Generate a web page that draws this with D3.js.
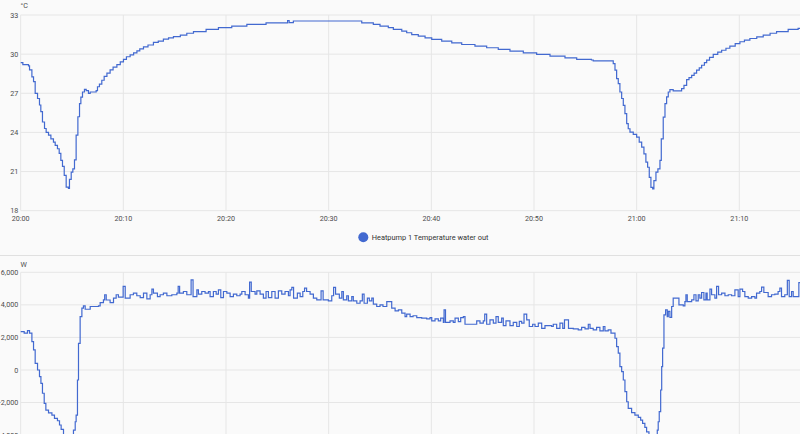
<!DOCTYPE html>
<html><head><meta charset="utf-8">
<script src="https://cdn.jsdelivr.net/npm/d3@7"></script>
<style>
html,body{margin:0;padding:0;background:#fafafa;overflow:hidden;}
svg{display:block;font-family:Roboto,"Noto Sans",sans-serif;}
</style></head>
<body>
<svg id="c" width="800" height="434"></svg>
<script>
// ---- data (minutes after 20:00) ----
const tempMinutes = [0,0.21,0.76,0.86,1.09,1.25,1.41,1.64,1.83,1.96,2.12,2.32,2.48,2.71,2.94,3.19,3.36,3.58,3.75,3.91,4.07,4.24,4.43,4.65,4.75,4.92,5.08,5.24,5.40,5.57,5.73,5.86,6.02,6.21,6.38,6.60,6.77,7.35,7.48,7.67,7.90,8.13,8.4,8.71,9.0,9.37,9.7,10.01,10.3,10.66,11.0,11.32,11.6,11.96,12.4,12.93,13.4,13.90,14.4,14.88,15.55,16.18,16.83,18.06,19.26,20.56,22.03,23.9,26.0,26.15,26.56,33.22,34.35,35.0,35.81,36.3,37.12,37.6,38.09,38.73,39.39,40.04,41.01,41.99,42.96,44.25,45.39,46.52,47.66,48.96,50.26,51.56,53.02,54.16,55.6,55.77,57.72,57.89,58.05,58.21,58.37,58.54,58.70,58.86,59.03,59.18,59.35,59.67,60.0,60.25,60.49,60.71,60.9,61.07,61.23,61.39,61.56,61.68,61.88,62.07,62.27,62.4,62.59,62.76,62.92,63.08,63.24,63.56,64.38,64.61,64.87,65.1,65.36,65.6,65.84,66.1,66.33,66.6,66.82,67.1,67.46,67.9,68.28,68.7,69.08,69.6,70.06,70.5,71.03,71.7,72.33,73.0,73.63,74.76,75.73,76.5];
const tempValues = [29.35,29.2,29.1,28.8,28.25,27.9,27.0,26.6,26.1,25.6,24.8,24.3,24.0,23.8,23.5,23.25,23.0,22.75,22.4,21.85,21.4,20.7,19.8,19.7,20.4,20.95,21.2,21.9,23.8,25.2,26.2,26.7,27.1,27.3,27.2,27.0,27.1,27.2,27.5,27.7,28.0,28.3,28.55,28.8,29.0,29.2,29.4,29.6,29.8,29.95,30.1,30.25,30.4,30.55,30.7,30.9,31.0,31.15,31.25,31.35,31.46,31.6,31.72,31.9,32.03,32.15,32.28,32.4,32.58,32.42,32.54,32.4,32.28,32.15,32.03,31.9,31.77,31.64,31.5,31.38,31.25,31.13,31.0,30.87,30.74,30.62,30.49,30.36,30.23,30.1,29.98,29.85,29.72,29.6,29.55,29.48,29.28,28.77,28.13,27.74,27.1,26.6,26.08,25.44,24.67,24.28,24.03,23.85,23.64,23.25,22.87,22.36,21.72,21.33,20.56,19.79,19.67,20.3,20.95,21.2,21.85,23.5,25.18,26.2,26.72,27.1,27.28,27.18,27.36,27.6,28.05,28.2,28.38,28.55,28.77,28.95,29.15,29.35,29.54,29.75,29.98,30.15,30.3,30.45,30.62,30.8,30.95,31.08,31.2,31.33,31.46,31.6,31.72,31.9,31.97,32.0];

const powerMinutes = [0,0.34,0.66,0.86,1.09,1.25,1.41,1.64,1.83,1.97,2.12,2.29,2.45,2.71,3.04,3.29,3.58,3.78,3.94,4.17,4.43,4.82,5.14,5.31,5.40,5.53,5.63,5.79,5.96,6.11,6.28,6.77,7.58,7.74,8.06,8.18,8.33,8.71,9.04,9.30,9.52,9.98,10.18,10.66,10.98,11.31,11.64,11.96,12.29,12.61,12.78,12.93,13.32,13.58,13.90,14.24,14.72,15.21,15.34,15.48,15.85,16.18,16.60,16.79,17.16,17.31,17.64,17.96,18.29,18.45,18.77,19.04,19.26,19.49,19.75,20.08,20.40,20.72,21.05,21.37,21.54,21.86,22.18,22.30,22.46,22.83,23.00,23.32,23.64,23.90,24.13,24.46,24.78,25.10,25.43,25.75,26.08,26.24,26.41,26.58,26.95,27.22,27.48,27.65,27.85,28.19,28.51,28.84,29.26,29.46,29.97,30.30,30.48,30.67,31.04,31.28,31.43,31.76,31.92,32.25,32.40,32.74,33.06,33.28,33.45,33.77,33.96,34.20,34.35,34.68,35.00,35.29,35.66,36.14,36.47,36.79,37.12,37.44,37.60,37.93,38.22,38.58,39.06,39.55,39.87,40.04,40.36,40.68,40.91,41.17,41.24,41.38,41.82,42.14,42.31,42.63,42.86,43.12,43.28,44.42,44.74,45.06,45.20,45.39,45.71,46.04,46.30,46.52,46.85,47.01,47.27,47.66,47.98,48.32,48.57,48.80,49.03,49.29,49.54,49.87,50.10,50.42,50.75,51.07,51.72,51.88,52.21,52.53,52.80,52.97,53.36,53.83,54.31,54.64,54.97,55.29,55.46,55.77,56.10,56.42,56.75,56.91,57.23,57.50,57.89,58.05,58.21,58.37,58.54,58.70,58.86,59.03,59.18,59.51,59.83,60.16,60.39,60.58,60.80,60.97,61.20,61.49,61.78,62.01,62.10,62.20,62.34,62.44,62.53,62.66,62.82,62.98,63.08,63.24,63.41,63.56,64.12,64.54,64.70,64.80,64.93,65.36,65.58,65.78,66.00,66.16,66.33,66.55,66.75,66.87,67.14,67.30,67.62,67.79,67.98,68.28,68.60,68.92,69.25,69.57,69.89,70.06,70.32,70.54,70.87,71.20,71.52,71.68,72.00,72.17,72.39,72.81,73.14,73.46,73.78,73.95,74.11,74.43,74.68,74.86,75.09,75.25,75.80,76.2];
const powerValues = [2360,2260,2420,2260,1740,1230,410,0,-410,-820,-1430,-2050,-2460,-2630,-2770,-2970,-3120,-3380,-3650,-4300,-4800,-4600,-3690,-3180,-2770,-615,1640,3280,3800,3940,3730,3900,3940,4140,4310,4620,4300,4140,4410,4620,4470,5130,4410,4620,4720,4560,4450,4720,4370,4620,4970,4720,4510,4620,4720,4560,4620,4720,5130,4720,4820,4620,5540,4510,4920,4660,4820,4720,4820,4510,4820,4660,4920,4450,4820,4720,4510,4660,4560,4660,4820,4620,4410,5400,4820,4660,4860,4660,4410,4820,4450,4820,4410,4860,4660,4820,4560,4920,5070,4410,4720,4510,4820,5030,4820,4660,4410,4310,4860,4310,4250,4560,5070,4660,4410,4820,4310,4560,4250,4510,4250,4100,4250,4660,4100,4410,4250,4410,4040,3900,4000,3900,4200,3800,3630,3690,3490,3280,3430,3280,3330,3220,3180,3140,3220,3020,3140,3020,3180,2930,3690,2930,3020,2930,3180,2970,3220,3280,2810,3020,2880,3020,3430,2810,3080,2880,3280,2930,3180,2730,3020,2730,2930,2670,2980,2880,3430,3080,2670,2810,2670,2880,2560,2730,2670,2810,2560,2880,2560,3080,2560,2520,2460,2620,2520,2810,2560,2460,2620,2400,2670,2400,2460,2260,1950,1440,1030,200,-100,-615,-1330,-1950,-2360,-2620,-2770,-2910,-3080,-3280,-3530,-3800,-4300,-4700,-4400,-3690,-3180,-2560,-1230,200,1340,3380,3690,3280,3600,3230,3900,4410,4000,3940,4200,4620,4200,4310,4620,4250,4620,4410,4760,4310,4720,4310,4970,4620,4410,5130,4620,4720,4560,4620,4560,4920,4510,4970,4820,4510,4410,4510,4410,4720,4820,5090,4760,4510,4620,4660,4820,5030,4510,4620,5500,4510,4820,4510,5370,5370];

const tempTicks = [18,21,24,27,30,33];
const powerTicks = [-4000,-2000,0,2000,4000,6000];
const timeTickLabels = ["20:00","20:10","20:20","20:30","20:40","20:50","21:00","21:10"];
const seriesName = "Heatpump 1 Temperature water out";
const tempUnit = "°C", powerUnit = "W";

// ---- drawing ----
const base = new Date(2024,0,1,20,0,0);
const toDate = m => new Date(base.getTime() + m*60000);
const svg = d3.select("#c");
const LINE = "#4269d0", GRID = "#e6e6e6", TXT = "#4d4d4d", FS = "7.2px";

const x = d3.scaleTime().domain([toDate(0), toDate(76)]).range([20.7, 800.9]);
const timeTicks = timeTickLabels.map(s => { const [h,mm] = s.split(":").map(Number); return toDate((h-20)*60+mm); });

function panel(yScale, ticks, fmt, minutes, values, unit, unitY, showXLabels) {
  const g = svg.append("g");
  const [yBot, yTop] = yScale.range();
  const yBottom = Math.min(yBot, 434);
  // horizontal grid
  g.selectAll(".hg").data(ticks).enter().append("line")
    .attr("x1", x.range()[0]).attr("x2", 800)
    .attr("y1", d => yScale(d)).attr("y2", d => yScale(d))
    .attr("stroke", GRID).attr("stroke-width", 1);
  // vertical grid
  g.selectAll(".vg").data(timeTicks).enter().append("line")
    .attr("x1", d => x(d)).attr("x2", d => x(d))
    .attr("y1", yScale(ticks[ticks.length-1])).attr("y2", yBottom)
    .attr("stroke", GRID).attr("stroke-width", 1);
  // y labels
  g.selectAll(".yl").data(ticks).enter().append("text")
    .attr("x", 18.3).attr("y", d => yScale(d)).attr("dy", "0.35em")
    .attr("text-anchor", "end").attr("fill", TXT).style("font-size", FS)
    .text(fmt);
  g.append("text").attr("x", 20.5).attr("y", unitY).attr("fill", TXT)
    .style("font-size", FS).text(unit);
  if (showXLabels) {
    g.selectAll(".xl").data(timeTicks).enter().append("text")
      .attr("x", d => x(d)).attr("y", yScale.range()[0] + 10)
      .attr("text-anchor", "middle").attr("fill", TXT).style("font-size", FS)
      .text((d,i) => timeTickLabels[i]);
  }
  const data = minutes.map((m,i) => [toDate(m), values[i]]);
  g.append("path").datum(data)
    .attr("fill", "none").attr("stroke", LINE).attr("stroke-width", 1.2)
    .attr("stroke-linejoin", "miter")
    .attr("d", d3.line().x(d => x(d[0])).y(d => yScale(d[1])).curve(d3.curveStepAfter));
}

const yTemp = d3.scaleLinear().domain([18, 33]).range([210.7, 15]);
panel(yTemp, tempTicks, d => d, tempMinutes, tempValues, tempUnit, 7.5, true);

// legend
const lg = svg.append("g");
lg.append("circle").attr("cx", 363.3).attr("cy", 237.3).attr("r", 5).attr("fill", LINE);
lg.append("text").attr("x", 371.7).attr("y", 237.3).attr("dy", "0.35em")
  .attr("fill", "#333").style("font-size", "7.4px").text(seriesName);

// separator
svg.append("line").attr("x1", 0).attr("x2", 800).attr("y1", 255.5).attr("y2", 255.5)
  .attr("stroke", "#e0e0e0").attr("stroke-width", 1);

const yPow = d3.scaleLinear().domain([-4000, 6000]).range([435.1, 272.3]);
panel(yPow, powerTicks, d3.format(","), powerMinutes, powerValues, powerUnit, 267, false);
</script>
</body></html>
